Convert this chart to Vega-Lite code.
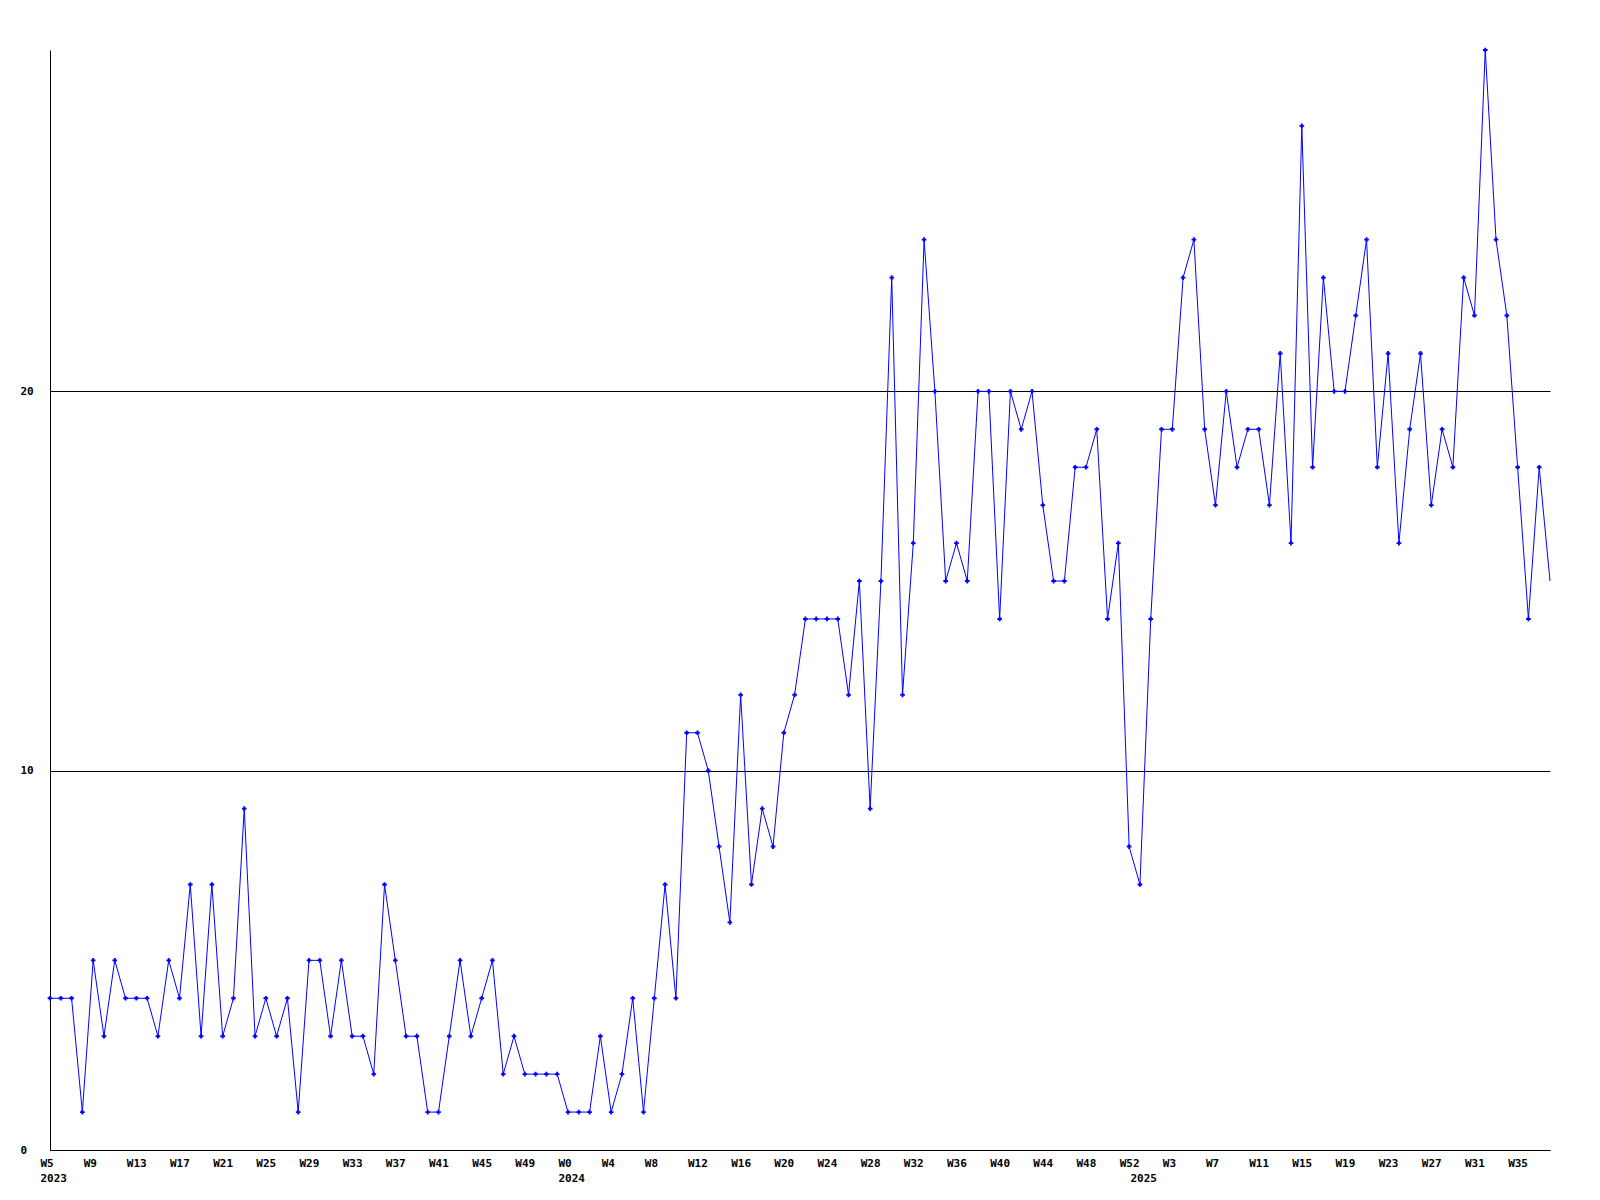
{
  "$schema": "https://vega.github.io/schema/vega-lite/v6.json",
  "width": 1500,
  "height": 1100,
  "autosize": {"type": "none"},
  "padding": {"left": 50, "top": 50, "right": 50, "bottom": 50},
  "background": "white",
  "config": {
    "view": {"stroke": null},
    "font": "DejaVu Sans Mono",
    "axis": {"labelFont": "DejaVu Sans Mono", "labelFontWeight": "bold", "labelFontSize": 11, "labelColor": "black"}
  },
  "data": {
    "values": [
      {"wk": "2023-W5", "v": 4}, {"wk": "2023-W6", "v": 4}, {"wk": "2023-W7", "v": 4}, {"wk": "2023-W8", "v": 1},
      {"wk": "2023-W9", "v": 5}, {"wk": "2023-W10", "v": 3}, {"wk": "2023-W11", "v": 5}, {"wk": "2023-W12", "v": 4},
      {"wk": "2023-W13", "v": 4}, {"wk": "2023-W14", "v": 4}, {"wk": "2023-W15", "v": 3}, {"wk": "2023-W16", "v": 5},
      {"wk": "2023-W17", "v": 4}, {"wk": "2023-W18", "v": 7}, {"wk": "2023-W19", "v": 3}, {"wk": "2023-W20", "v": 7},
      {"wk": "2023-W21", "v": 3}, {"wk": "2023-W22", "v": 4}, {"wk": "2023-W23", "v": 9}, {"wk": "2023-W24", "v": 3},
      {"wk": "2023-W25", "v": 4}, {"wk": "2023-W26", "v": 3}, {"wk": "2023-W27", "v": 4}, {"wk": "2023-W28", "v": 1},
      {"wk": "2023-W29", "v": 5}, {"wk": "2023-W30", "v": 5}, {"wk": "2023-W31", "v": 3}, {"wk": "2023-W32", "v": 5},
      {"wk": "2023-W33", "v": 3}, {"wk": "2023-W34", "v": 3}, {"wk": "2023-W35", "v": 2}, {"wk": "2023-W36", "v": 7},
      {"wk": "2023-W37", "v": 5}, {"wk": "2023-W38", "v": 3}, {"wk": "2023-W39", "v": 3}, {"wk": "2023-W40", "v": 1},
      {"wk": "2023-W41", "v": 1}, {"wk": "2023-W42", "v": 3}, {"wk": "2023-W43", "v": 5}, {"wk": "2023-W44", "v": 3},
      {"wk": "2023-W45", "v": 4}, {"wk": "2023-W46", "v": 5}, {"wk": "2023-W47", "v": 2}, {"wk": "2023-W48", "v": 3},
      {"wk": "2023-W49", "v": 2}, {"wk": "2023-W50", "v": 2}, {"wk": "2023-W51", "v": 2}, {"wk": "2023-W52", "v": 2},
      {"wk": "2024-W0", "v": 1}, {"wk": "2024-W1", "v": 1}, {"wk": "2024-W2", "v": 1}, {"wk": "2024-W3", "v": 3},
      {"wk": "2024-W4", "v": 1}, {"wk": "2024-W5", "v": 2}, {"wk": "2024-W6", "v": 4}, {"wk": "2024-W7", "v": 1},
      {"wk": "2024-W8", "v": 4}, {"wk": "2024-W9", "v": 7}, {"wk": "2024-W10", "v": 4}, {"wk": "2024-W11", "v": 11},
      {"wk": "2024-W12", "v": 11}, {"wk": "2024-W13", "v": 10}, {"wk": "2024-W14", "v": 8}, {"wk": "2024-W15", "v": 6},
      {"wk": "2024-W16", "v": 12}, {"wk": "2024-W17", "v": 7}, {"wk": "2024-W18", "v": 9}, {"wk": "2024-W19", "v": 8},
      {"wk": "2024-W20", "v": 11}, {"wk": "2024-W21", "v": 12}, {"wk": "2024-W22", "v": 14}, {"wk": "2024-W23", "v": 14},
      {"wk": "2024-W24", "v": 14}, {"wk": "2024-W25", "v": 14}, {"wk": "2024-W26", "v": 12}, {"wk": "2024-W27", "v": 15},
      {"wk": "2024-W28", "v": 9}, {"wk": "2024-W29", "v": 15}, {"wk": "2024-W30", "v": 23}, {"wk": "2024-W31", "v": 12},
      {"wk": "2024-W32", "v": 16}, {"wk": "2024-W33", "v": 24}, {"wk": "2024-W34", "v": 20}, {"wk": "2024-W35", "v": 15},
      {"wk": "2024-W36", "v": 16}, {"wk": "2024-W37", "v": 15}, {"wk": "2024-W38", "v": 20}, {"wk": "2024-W39", "v": 20},
      {"wk": "2024-W40", "v": 14}, {"wk": "2024-W41", "v": 20}, {"wk": "2024-W42", "v": 19}, {"wk": "2024-W43", "v": 20},
      {"wk": "2024-W44", "v": 17}, {"wk": "2024-W45", "v": 15}, {"wk": "2024-W46", "v": 15}, {"wk": "2024-W47", "v": 18},
      {"wk": "2024-W48", "v": 18}, {"wk": "2024-W49", "v": 19}, {"wk": "2024-W50", "v": 14}, {"wk": "2024-W51", "v": 16},
      {"wk": "2024-W52", "v": 8},
      {"wk": "2025-W0", "v": 7}, {"wk": "2025-W1", "v": 14}, {"wk": "2025-W2", "v": 19}, {"wk": "2025-W3", "v": 19},
      {"wk": "2025-W4", "v": 23}, {"wk": "2025-W5", "v": 24}, {"wk": "2025-W6", "v": 19}, {"wk": "2025-W7", "v": 17},
      {"wk": "2025-W8", "v": 20}, {"wk": "2025-W9", "v": 18}, {"wk": "2025-W10", "v": 19}, {"wk": "2025-W11", "v": 19},
      {"wk": "2025-W12", "v": 17}, {"wk": "2025-W13", "v": 21}, {"wk": "2025-W14", "v": 16}, {"wk": "2025-W15", "v": 27},
      {"wk": "2025-W16", "v": 18}, {"wk": "2025-W17", "v": 23}, {"wk": "2025-W18", "v": 20}, {"wk": "2025-W19", "v": 20},
      {"wk": "2025-W20", "v": 22}, {"wk": "2025-W21", "v": 24}, {"wk": "2025-W22", "v": 18}, {"wk": "2025-W23", "v": 21},
      {"wk": "2025-W24", "v": 16}, {"wk": "2025-W25", "v": 19}, {"wk": "2025-W26", "v": 21}, {"wk": "2025-W27", "v": 17},
      {"wk": "2025-W28", "v": 19}, {"wk": "2025-W29", "v": 18}, {"wk": "2025-W30", "v": 23}, {"wk": "2025-W31", "v": 22},
      {"wk": "2025-W32", "v": 29}, {"wk": "2025-W33", "v": 24}, {"wk": "2025-W34", "v": 22}, {"wk": "2025-W35", "v": 18},
      {"wk": "2025-W36", "v": 14}, {"wk": "2025-W37", "v": 18}, {"wk": "2025-W38", "v": 15}
    ]
  },
  "encoding": {
    "x": {
      "field": "wk", "type": "ordinal", "sort": null,
      "scale": {"type": "point", "padding": 0},
      "axis": {
        "title": null,
        "values": ["2023-W5", "2023-W9", "2023-W13", "2023-W17", "2023-W21", "2023-W25", "2023-W29", "2023-W33", "2023-W37", "2023-W41", "2023-W45", "2023-W49",
                   "2024-W0", "2024-W4", "2024-W8", "2024-W12", "2024-W16", "2024-W20", "2024-W24", "2024-W28", "2024-W32", "2024-W36", "2024-W40", "2024-W44", "2024-W48", "2024-W52",
                   "2025-W0", "2025-W3", "2025-W7", "2025-W11", "2025-W15", "2025-W19", "2025-W23", "2025-W27", "2025-W31", "2025-W35"],
        "labelExpr": "datum.value == '2023-W5' ? ['W5', '2023'] : datum.value == '2024-W0' ? ['W0', '2024'] : datum.value == '2025-W0' ? [' ', '2025'] : split(datum.value, '-')[1]",
        "labelAlign": "left",
        "labelOffset": -10,
        "labelBaseline": "top",
        "labelPadding": 7,
        "labelLineHeight": 15,
        "labelOverlap": false,
        "labelAngle": 0,
        "labelBound": false,
        "labelFlush": false,
        "ticks": false,
        "grid": false,
        "domainColor": "black",
        "domainWidth": 1
      }
    },
    "y": {
      "field": "v", "type": "quantitative",
      "scale": {"domain": [0, 29], "nice": false, "zero": true},
      "axis": {
        "title": null,
        "values": [0, 10, 20],
        "ticks": false,
        "grid": true,
        "gridColor": "black",
        "gridOpacity": 1,
        "gridWidth": 1,
        "domainColor": "black",
        "domainWidth": 1,
        "labelAlign": "left",
        "labelPadding": 30,
        "labelBaseline": "middle"
      }
    }
  },
  "layer": [
    {"mark": {"type": "line", "color": "#0000ff", "strokeWidth": 1}},
    {
      "transform": [{"filter": "datum.wk != '2025-W38'"}],
      "mark": {"type": "point", "shape": "cross", "filled": true, "color": "#0000ff", "size": 22, "opacity": 1}
    }
  ]
}
